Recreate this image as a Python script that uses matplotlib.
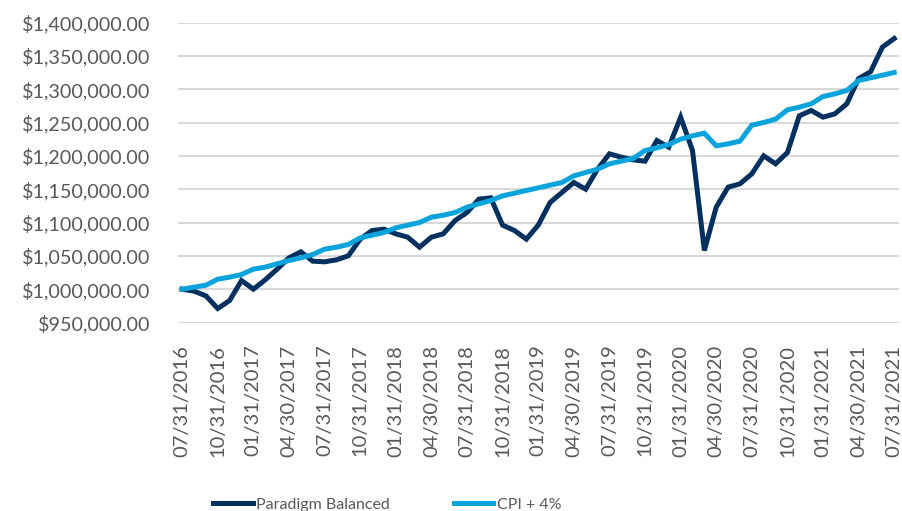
import matplotlib
matplotlib.use("Agg")
import matplotlib.pyplot as plt
import matplotlib.ticker as mticker
import pandas as pd

# --- DATA (month-end values) ---
dates = pd.date_range("2016-07-31", periods=61, freq="ME")

paradigm = [1000, 997, 990, 971, 983, 1013, 1000, 1014, 1030, 1047,
            1056, 1042, 1041, 1044, 1050, 1075, 1088, 1090, 1083, 1078,
            1063, 1078, 1083, 1103, 1115, 1135, 1137, 1096, 1088, 1075,
            1096, 1130, 1145, 1160, 1150, 1180, 1203, 1198, 1194, 1192,
            1223, 1213, 1258, 1208, 1058, 1123, 1153, 1158, 1173, 1200,
            1188, 1205, 1260, 1268, 1258, 1263, 1278, 1316, 1326, 1363,
            1376]

cpi_plus4 = [1000, 1003, 1006, 1015, 1018, 1022, 1030, 1033, 1038, 1043,
             1047, 1052, 1060, 1063, 1067, 1077, 1081, 1085, 1092, 1096,
             1100, 1108, 1111, 1115, 1123, 1128, 1133, 1140, 1144, 1148,
             1152, 1156, 1160, 1170, 1175, 1180, 1188, 1192, 1196, 1208,
             1212, 1217, 1225, 1230, 1234, 1215, 1218, 1222, 1246, 1250,
             1255, 1269, 1273, 1278, 1289, 1293, 1298, 1313, 1317, 1321,
             1325]

series_names = ["Paradigm Balanced", "CPI + 4%"]
y_ticks = list(range(950000, 1400001, 50000))

# values above are in thousands
paradigm = [v * 1000 for v in paradigm]
cpi_plus4 = [v * 1000 for v in cpi_plus4]

DARK = "#02305F"
LIGHT = "#0BA3DB"
GREY = "#595959"

plt.rcParams["font.family"] = ["Lato", "DejaVu Sans"]

fig = plt.figure(figsize=(9.02, 5.11), dpi=100)
ax = fig.add_axes([178 / 902, 1 - 322.5 / 511, (899 - 178) / 902, 300 / 511])

x = list(range(len(dates)))
ax.plot(x, paradigm, color=DARK, lw=3.6, solid_joinstyle="miter",
        label=series_names[0], zorder=3)
ax.plot(x, cpi_plus4, color=LIGHT, lw=3.6, solid_joinstyle="miter",
        label=series_names[1], zorder=3)

ax.set_xlim(-0.35, 60.4)
ax.set_ylim(950000, 1400000)
ax.set_yticks(y_ticks)
ax.yaxis.set_major_formatter(mticker.StrMethodFormatter("${x:,.2f}"))

tick_idx = x[::3]
ax.set_xticks(tick_idx)
ax.set_xticklabels([dates[i].strftime("%m/%d/%Y") for i in tick_idx],
                   rotation=90)

ax.tick_params(axis="y", length=0, pad=20, labelsize=14.2, labelcolor=GREY)
ax.tick_params(axis="x", length=0, pad=16, labelsize=14.5, labelcolor=GREY)

ax.grid(axis="y", color="#D9D9D9", lw=1.5, zorder=0)
for s in ax.spines.values():
    s.set_visible(False)

fig.legend(loc="center", bbox_to_anchor=(0.429, 0.012), ncol=2,
           frameon=False, fontsize=11.5, labelcolor=GREY,
           handlelength=2.5, handletextpad=0.2, columnspacing=4.0)

fig.savefig("out.png", dpi=100)
